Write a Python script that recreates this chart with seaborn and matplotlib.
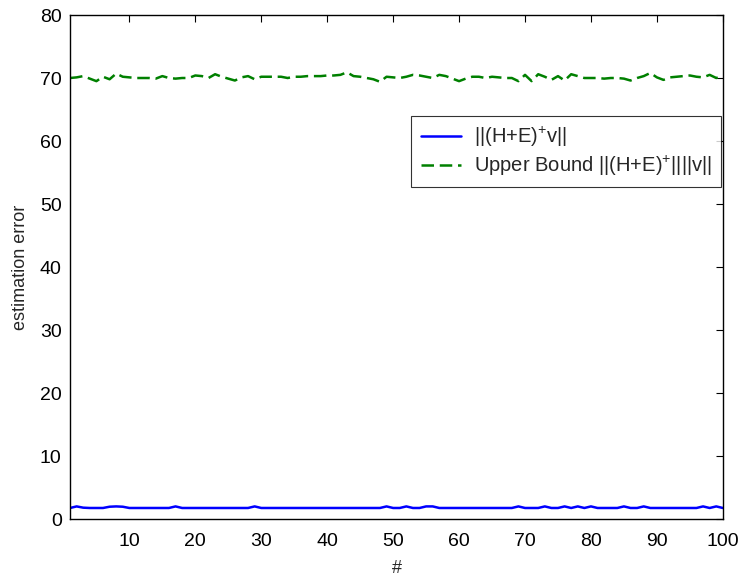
import numpy as np
import pandas as pd
import seaborn as sns
import matplotlib
matplotlib.use("Agg")
import matplotlib.pyplot as plt

# Trial index and the two error curves
trials = list(range(1, 101))

actual_error = [
    1.75, 2.00, 1.80, 1.75, 1.75, 1.75, 1.95, 2.00, 1.95, 1.75,
    1.75, 1.75, 1.75, 1.75, 1.75, 1.75, 2.00, 1.75, 1.75, 1.75,
    1.75, 1.75, 1.75, 1.75, 1.75, 1.75, 1.75, 1.75, 2.00, 1.75,
    1.75, 1.75, 1.75, 1.75, 1.75, 1.75, 1.75, 1.75, 1.75, 1.75,
    1.75, 1.75, 1.75, 1.75, 1.75, 1.75, 1.75, 1.75, 2.00, 1.75,
    1.75, 2.00, 1.75, 1.75, 2.00, 2.00, 1.75, 1.75, 1.75, 1.75,
    1.75, 1.75, 1.75, 1.75, 1.75, 1.75, 1.75, 1.75, 2.00, 1.75,
    1.75, 1.75, 2.00, 1.75, 1.75, 2.00, 1.75, 2.00, 1.75, 2.00,
    1.75, 1.75, 1.75, 1.75, 2.00, 1.75, 1.75, 2.00, 1.75, 1.75,
    1.75, 1.75, 1.75, 1.75, 1.75, 1.75, 2.00, 1.75, 2.00, 1.75,
]

upper_bound = [
    70.0, 70.1, 70.3, 69.9, 69.5, 70.2, 69.8, 70.7, 70.2, 70.1,
    70.0, 70.0, 70.0, 69.9, 70.3, 70.0, 69.9, 70.0, 70.0, 70.4,
    70.3, 70.0, 70.6, 70.2, 69.9, 69.6, 70.1, 70.3, 69.8, 70.2,
    70.2, 70.2, 70.2, 70.0, 70.2, 70.2, 70.3, 70.3, 70.3, 70.4,
    70.4, 70.5, 70.9, 70.3, 70.2, 70.0, 69.8, 69.4, 70.2, 70.1,
    70.0, 70.2, 70.5, 70.4, 70.2, 70.0, 70.5, 70.3, 69.9, 69.5,
    69.9, 70.2, 70.2, 70.0, 70.2, 70.1, 70.0, 70.0, 69.5, 70.5,
    69.5, 70.6, 70.2, 69.7, 70.3, 69.6, 70.6, 70.3, 70.0, 70.0,
    70.0, 69.9, 70.0, 70.0, 69.9, 69.6, 70.0, 70.3, 70.8, 70.1,
    69.7, 70.1, 70.2, 70.3, 70.4, 70.2, 70.1, 70.5, 70.0, 70.4,
]

label_actual = r"||(H+E)$^{+}$v||"
label_bound = r"Upper Bound ||(H+E)$^{+}$||||v||"

df = pd.DataFrame({
    "trial": trials * 2,
    "error": actual_error + upper_bound,
    "series": [label_actual] * len(trials) + [label_bound] * len(trials),
})

sns.set_style("white")
plt.rcParams["font.family"] = ["Liberation Sans", "DejaVu Sans"]
plt.rcParams["mathtext.fontset"] = "custom"
plt.rcParams["mathtext.rm"] = "Liberation Sans"
plt.rcParams["mathtext.it"] = "Liberation Sans:italic"
plt.rcParams["mathtext.bf"] = "Liberation Sans:bold"

fig = plt.figure(figsize=(7.41, 5.77), dpi=100)
ax = fig.add_axes([0.0945, 0.1005, 0.881, 0.8735])

sns.lineplot(
    data=df, x="trial", y="error", hue="series", style="series",
    palette={label_actual: (0, 0, 1), label_bound: (0, 0.5, 0)},
    dashes={label_actual: "", label_bound: (5.0, 2.3)},
    linewidth=1.8, ax=ax,
)

ax.set_xlim(1, 100)
ax.set_ylim(0, 80)
ax.set_xticks(range(10, 101, 10))
ax.set_yticks(range(0, 81, 10))
ax.set_xlabel("#", fontsize=13, labelpad=7)
ax.set_ylabel("estimation error", fontsize=13, labelpad=8)
ax.tick_params(direction="in", length=5, width=0.8, labelsize=14,
               top=True, right=True, colors="black")
ax.tick_params(axis="x", pad=10)
ax.tick_params(axis="y", pad=6)
for s in ax.spines.values():
    s.set_visible(True)
    s.set_color("black")
    s.set_linewidth(1.0)

leg = ax.legend(loc="upper left", bbox_to_anchor=(0.523, 0.80), fontsize=14.5,
                frameon=True, fancybox=False, handlelength=2.0,
                handletextpad=0.65, borderpad=0.45, labelspacing=0.25,
                borderaxespad=0)
leg.get_frame().set_edgecolor("black")
leg.get_frame().set_linewidth(0.8)

fig.savefig("out.png", dpi=100, facecolor="white")
